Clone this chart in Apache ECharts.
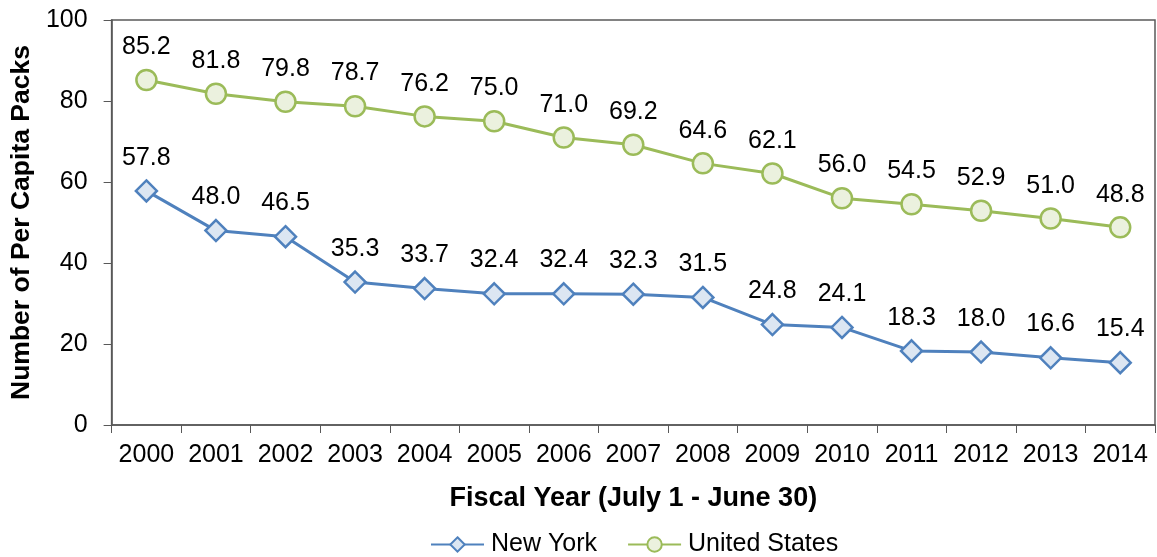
<!DOCTYPE html>
<html>
<head>
<meta charset="utf-8">
<script src="https://cdn.jsdelivr.net/npm/echarts@6/dist/echarts.min.js"></script>
<style>
  html, body { margin: 0; padding: 0; background: #fff; }
  #main { width: 1157px; height: 557px; }
</style>
</head>
<body>
<div id="main"></div>
<script>
  // data
  var years = ['2000', '2001', '2002', '2003', '2004', '2005', '2006', '2007',
    '2008', '2009', '2010', '2011', '2012', '2013', '2014'];
  var newYork = [57.8, 48.0, 46.5, 35.3, 33.7, 32.4, 32.4, 32.3, 31.5, 24.8, 24.1, 18.3, 18.0, 16.6, 15.4];
  var unitedStates = [85.2, 81.8, 79.8, 78.7, 76.2, 75.0, 71.0, 69.2, 64.6, 62.1, 56.0, 54.5, 52.9, 51.0, 48.8];

  var font = 'Arial, "Liberation Sans", sans-serif';

  var labelStyle = {
    show: true,
    position: 'top',
    distance: 9,
    color: '#000',
    fontSize: 25,
    fontFamily: font,
    formatter: function (p) { return p.value.toFixed(1); }
  };

  var option = {
    animation: false,
    grid: {
      left: 111, right: 2, top: 20, bottom: 132,
      show: true, borderColor: '#595959', borderWidth: 1.5
    },
    legend: {
      top: 527,
      left: 425,
      itemWidth: 53,
      itemHeight: 18,
      itemGap: 30,
      textStyle: { fontSize: 25, fontFamily: font, color: '#000', padding: [0, 0, 0, 2] },
      data: ['New York', 'United States']
    },
    xAxis: {
      type: 'category',
      data: years,
      boundaryGap: true,
      name: 'Fiscal Year (July 1 - June 30)',
      nameLocation: 'middle',
      nameGap: 60,
      nameTextStyle: { fontSize: 27, fontWeight: 'bold', fontFamily: font, color: '#000' },
      axisLine: { lineStyle: { color: '#595959', width: 1.5 } },
      axisTick: { show: true, length: 8, inside: false, lineStyle: { color: '#595959' } },
      axisLabel: { interval: 0, fontSize: 25, fontFamily: font, color: '#000', margin: 18 }
    },
    yAxis: {
      type: 'value',
      min: 0, max: 100, interval: 20,
      name: 'Number of Per Capita Packs',
      nameLocation: 'middle',
      nameGap: 72,
      nameTextStyle: { fontSize: 26.5, fontWeight: 'bold', fontFamily: font, color: '#000' },
      splitLine: { show: false },
      axisLine: { show: true, lineStyle: { color: '#595959', width: 1.5 } },
      axisTick: { show: true, length: 8, lineStyle: { color: '#595959' } },
      axisLabel: { fontSize: 25, fontFamily: font, color: '#000', margin: 24 }
    },
    series: [
      {
        name: 'New York',
        type: 'line',
        data: newYork,
        symbol: 'diamond',
        symbolSize: 21,
        lineStyle: { color: '#4f81bd', width: 3 },
        itemStyle: { color: '#dce6f2', borderColor: '#4f81bd', borderWidth: 2.5 },
        label: labelStyle
      },
      {
        name: 'United States',
        type: 'line',
        data: unitedStates,
        symbol: 'circle',
        symbolSize: 20,
        lineStyle: { color: '#9bbb59', width: 3 },
        itemStyle: { color: '#ebf1de', borderColor: '#9bbb59', borderWidth: 2.5 },
        label: labelStyle
      }
    ]
  };

  var chart = echarts.init(document.getElementById('main'));
  chart.setOption(option);
</script>
</body>
</html>
